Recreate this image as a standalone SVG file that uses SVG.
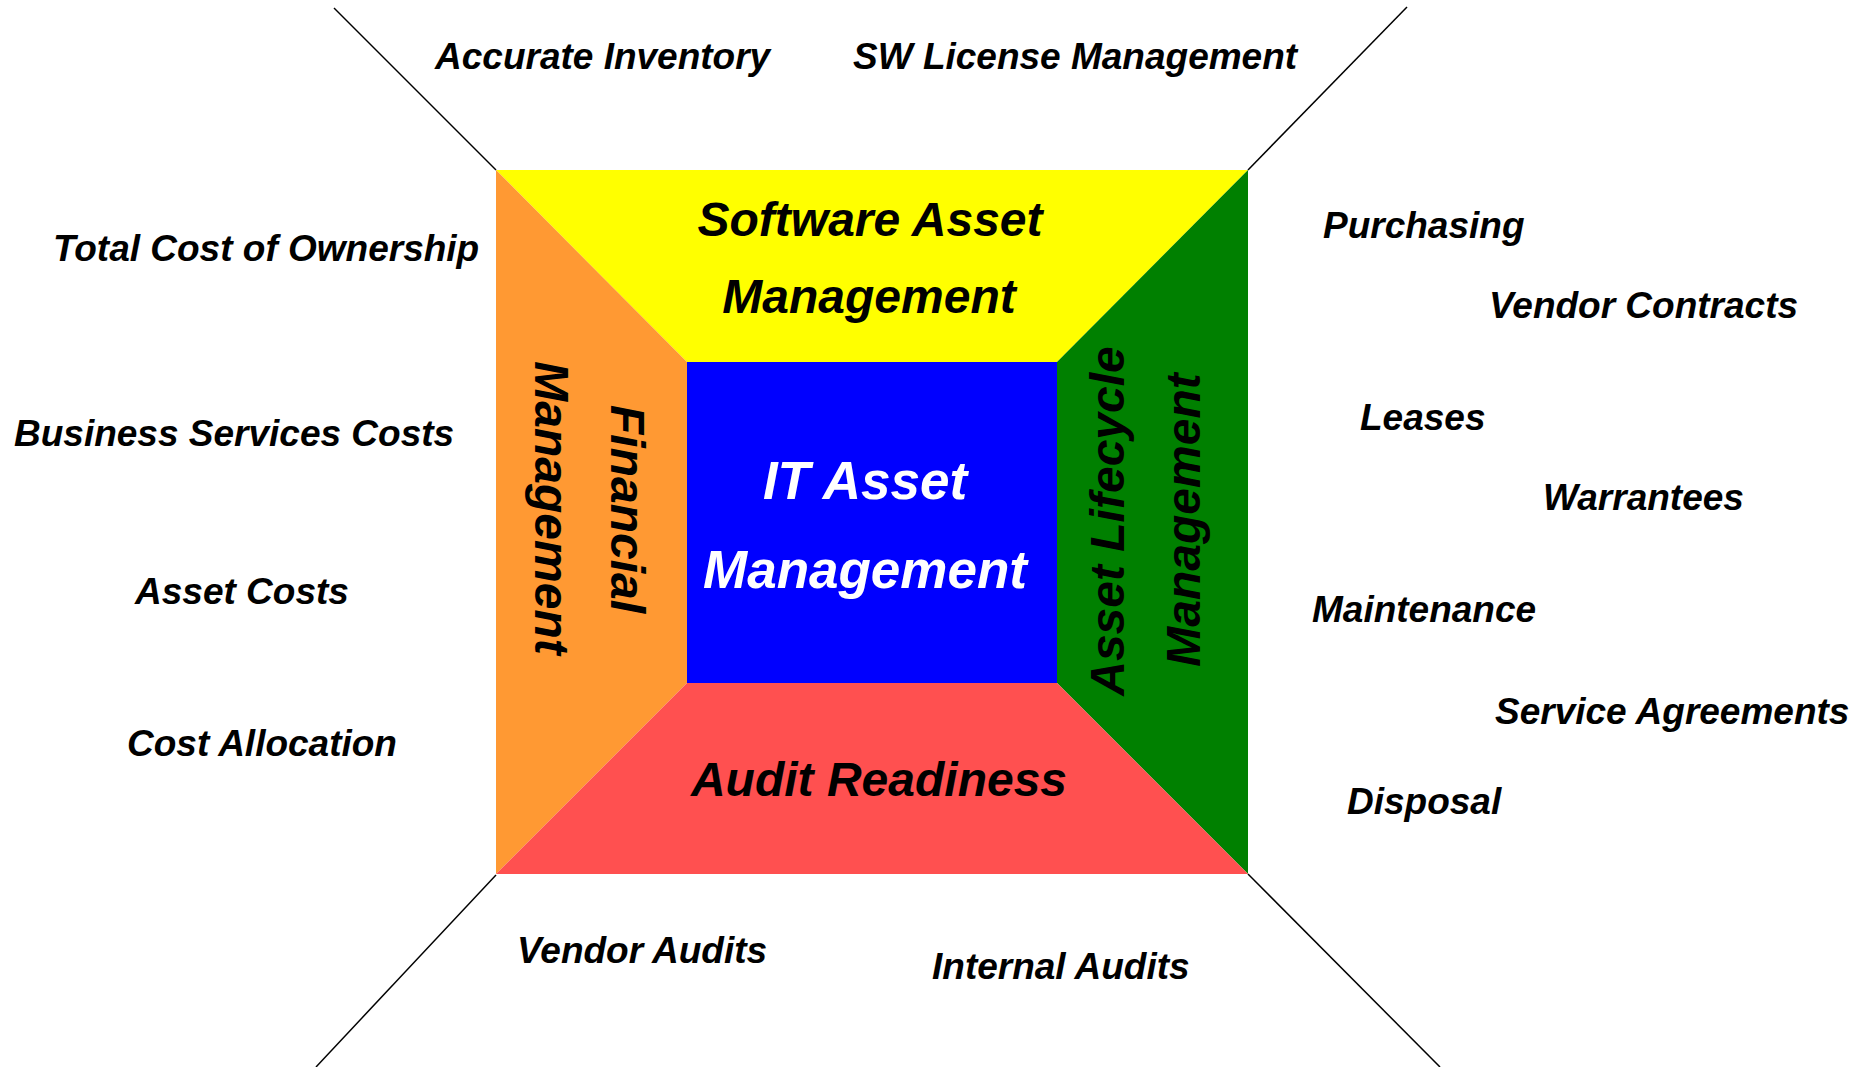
<svg xmlns="http://www.w3.org/2000/svg" width="1872" height="1067" viewBox="0 0 1872 1067">
<style>
text{font-family:"Liberation Sans",Arial,sans-serif;font-weight:bold;font-style:italic;fill:#000}
.s{font-size:37px}
.b{font-size:48px;text-anchor:middle}
.c{font-size:53px;text-anchor:middle;fill:#fff}
.ln{stroke:#000;stroke-width:1.5;fill:none}
</style>
<rect width="1872" height="1067" fill="#fff"/>
<g id="connectors">
<line class="ln" x1="334" y1="8" x2="496" y2="170"/>
<line class="ln" x1="1407" y1="7" x2="1248" y2="170"/>
<line class="ln" x1="496" y1="875" x2="316" y2="1067"/>
<line class="ln" x1="1248" y1="874" x2="1440" y2="1067"/>
</g>
<g id="software-asset-management">
<polygon points="496,170 1248,170 1057,362 687,362" fill="#FFFF00"/>
<text class="b" x="870" y="236">Software Asset</text>
<text class="b" x="869" y="313">Management</text>
</g>
<g id="financial-management">
<polygon points="496,170 687,362 687,683 496,874" fill="#FF9933"/>
<text class="b" transform="translate(611,509) rotate(90)">Financial</text>
<text class="b" transform="translate(535,508) rotate(90)">Management</text>
</g>
<g id="asset-lifecycle-management">
<polygon points="1248,170 1057,362 1057,683 1248,874" fill="#008000"/>
<text class="b" transform="translate(1124,521) rotate(-90)">Asset Lifecycle</text>
<text class="b" transform="translate(1200,520) rotate(-90)">Management</text>
</g>
<g id="audit-readiness">
<polygon points="687,683 1057,683 1248,874 496,874" fill="#FF5050"/>
<text class="b" x="879" y="796">Audit Readiness</text>
</g>
<g id="it-asset-management">
<rect x="687" y="362" width="370" height="321" fill="#0000FF"/>
<text class="c" x="865" y="499">IT Asset</text>
<text class="c" x="865" y="588">Management</text>
</g>
<g id="labels">
<text class="s" x="435" y="69">Accurate Inventory</text>
<text class="s" x="853" y="69">SW License Management</text>
<text class="s" x="53" y="261">Total Cost of Ownership</text>
<text class="s" x="14" y="446">Business Services Costs</text>
<text class="s" x="135" y="604">Asset Costs</text>
<text class="s" x="127" y="756">Cost Allocation</text>
<text class="s" x="517" y="963">Vendor Audits</text>
<text class="s" x="932" y="979">Internal Audits</text>
<text class="s" x="1323" y="238">Purchasing</text>
<text class="s" x="1489" y="318">Vendor Contracts</text>
<text class="s" x="1360" y="430">Leases</text>
<text class="s" x="1543" y="510">Warrantees</text>
<text class="s" x="1312" y="622">Maintenance</text>
<text class="s" x="1495" y="724">Service Agreements</text>
<text class="s" x="1347" y="814">Disposal</text>
</g>
</svg>
